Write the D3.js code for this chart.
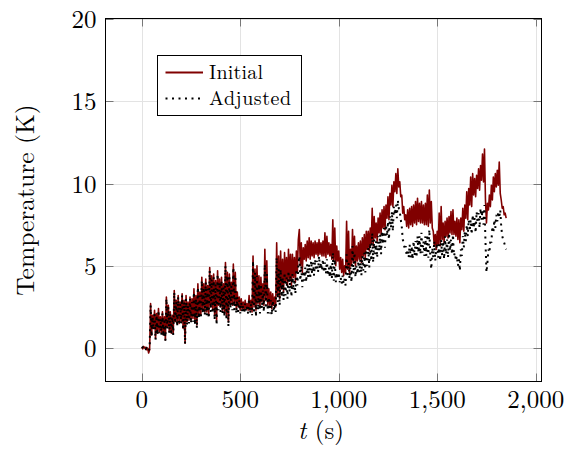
<!DOCTYPE html>
<html>
<head>
<meta charset="utf-8">
<script src="https://cdn.jsdelivr.net/npm/d3@7"></script>
<style>
  html, body { margin: 0; padding: 0; background: #fff; }
  svg { display: block; }
</style>
</head>
<body>
<svg id="chart" width="574" height="450"></svg>
<script>
// ---- data (sampled every 5 s, t = 0 … 1850 s) ----
const timeStep = 5;
const initialValues = [
  0.05, -0.05, 0.1, 0.0, 0.05, -0.1, 0.0, -0.3, -0.1, 2.7, 0.8, 2.0, 1.2, 2.3, 0.6, 2.1, 0.9, 2.4, 1.0, 1.9,
  0.9, 2.2, 0.8, 1.9, 0.5, 3.1, 1.3, 2.6, 1.0, 2.2, 0.9, 2.0, 0.9, 3.5, 1.6, 2.9, 1.5, 3.2, 1.5, 2.8,
  1.6, 3.3, 1.2, 2.9, 0.3, 3.2, 1.6, 2.8, 1.7, 3.1, 1.7, 3.0, 1.8, 3.6, 1.6, 3.2, 1.4, 3.9, 2.0, 3.4,
  2.0, 4.3, 2.3, 3.9, 2.2, 4.2, 2.2, 3.8, 2.0, 4.9, 2.5, 4.4, 2.4, 4.5, 2.0, 4.1, 1.7, 4.7, 2.6, 4.2,
  2.5, 4.3, 2.3, 3.9, 2.1, 5.2, 2.0, 4.6, 1.6, 4.5, 2.7, 4.0, 2.6, 5.1, 2.6, 4.6, 2.4, 3.4, 2.5, 3.1,
  2.3, 3.0, 2.4, 2.8, 2.3, 2.9, 2.4, 2.7, 2.3, 3.2, 2.3, 2.9, 2.2, 5.6, 2.5, 4.8, 2.3, 5.0, 2.7, 4.4,
  2.5, 4.3, 2.8, 3.9, 2.6, 6.0, 2.9, 5.3, 2.6, 3.6, 2.6, 3.4, 2.4, 3.3, 2.6, 3.1, 2.5, 6.4, 3.2, 5.6,
  3.0, 5.9, 3.6, 5.4, 3.4, 5.8, 4.0, 5.5, 3.8, 6.0, 4.1, 5.7, 3.8, 5.7, 4.3, 5.5, 4.0, 5.9, 4.6, 6.6,
  7.2, 5.0, 6.4, 4.6, 6.1, 5.4, 6.3, 5.3, 6.5, 5.5, 6.7, 5.4, 6.5, 5.6, 6.4, 5.5, 6.5, 5.7, 6.4, 5.6,
  6.6, 5.7, 6.4, 5.6, 6.5, 5.6, 7.0, 5.5, 6.8, 5.7, 6.4, 5.6, 6.3, 5.4, 7.8, 5.3, 7.3, 5.0, 6.2, 5.3,
  5.9, 4.8, 5.5, 4.6, 5.4, 4.4, 5.0, 4.6, 7.7, 4.8, 7.1, 4.5, 6.0, 5.0, 7.2, 5.2, 6.8, 5.0, 6.2, 5.3,
  6.4, 5.4, 6.5, 5.2, 6.7, 5.6, 6.9, 5.5, 7.1, 6.0, 7.1, 5.9, 7.3, 6.3, 8.5, 6.2, 8.0, 6.7, 7.6, 6.5,
  7.9, 7.0, 8.2, 6.9, 8.4, 7.3, 8.6, 7.2, 8.7, 7.9, 9.2, 7.8, 9.4, 8.7, 9.9, 8.6, 10.1, 9.5, 10.6, 9.4,
  10.9, 9.8, 10.1, 9.2, 9.3, 8.2, 8.6, 7.8, 8.1, 7.4, 8.4, 7.3, 8.5, 7.5, 8.6, 7.4, 8.7, 7.6, 8.9, 7.5,
  9.1, 7.7, 8.8, 7.6, 8.9, 7.6, 8.7, 7.5, 8.8, 7.5, 9.3, 7.4, 9.6, 7.6, 8.9, 7.3, 7.1, 6.2, 6.9, 6.0,
  7.1, 6.3, 8.2, 6.2, 8.6, 6.6, 7.6, 6.4, 7.7, 6.8, 7.9, 6.7, 8.0, 7.0, 8.3, 6.9, 8.4, 6.9, 7.7, 6.8,
  7.9, 6.6, 7.8, 6.4, 7.9, 7.2, 8.5, 7.1, 8.7, 7.9, 9.5, 7.8, 9.7, 8.7, 10.4, 8.6, 10.6, 9.3, 10.3, 9.2,
  10.5, 9.7, 10.9, 9.6, 11.1, 10.2, 11.8, 10.1, 12.1, 9.0, 7.6, 8.8, 8.4, 9.3, 8.6, 9.9, 9.0, 10.4, 9.5, 10.6,
  9.8, 10.8, 9.9, 11.3, 9.4, 9.0, 8.5, 8.6, 8.1, 8.2, 7.9
];
const adjustedValues = [
  0.0, 0.05, -0.05, 0.05, -0.05, 0.0, -0.1, -0.2, 0.0, 2.6, 0.7, 1.9, 1.1, 2.2, 0.5, 2.0, 0.8, 2.3, 0.9, 1.8,
  0.8, 2.1, 0.7, 1.8, 0.45, 3.0, 1.2, 2.5, 0.9, 2.1, 0.8, 1.9, 0.8, 3.4, 1.5, 2.8, 1.3, 3.1, 1.4, 2.7,
  1.5, 3.2, 1.1, 2.8, 0.25, 3.0, 1.4, 2.6, 1.5, 3.0, 1.5, 2.8, 1.6, 3.4, 1.4, 3.0, 1.2, 3.7, 1.8, 3.2,
  1.8, 4.1, 2.1, 3.7, 2.0, 4.0, 2.0, 3.6, 1.8, 4.7, 2.2, 4.2, 2.1, 4.3, 1.7, 3.9, 1.4, 4.5, 2.3, 4.0,
  2.2, 4.1, 2.1, 3.7, 1.9, 5.0, 1.7, 4.4, 1.3, 4.3, 2.4, 3.8, 2.3, 4.9, 2.3, 4.4, 2.1, 3.1, 2.2, 2.9,
  2.1, 2.8, 2.2, 2.6, 2.1, 2.7, 2.2, 2.5, 2.1, 3.0, 2.1, 2.7, 2.0, 5.3, 2.1, 4.6, 1.9, 4.4, 2.3, 3.9,
  2.1, 3.9, 2.4, 3.5, 2.2, 5.1, 2.4, 4.5, 2.1, 3.1, 2.1, 2.9, 2.0, 2.9, 2.2, 2.7, 2.2, 5.5, 2.8, 4.8,
  2.6, 4.8, 3.1, 4.3, 2.9, 4.6, 3.2, 4.3, 3.0, 4.7, 3.4, 4.4, 3.1, 4.5, 3.5, 4.2, 3.3, 4.8, 3.8, 5.0,
  5.6, 4.1, 5.0, 3.7, 4.7, 4.1, 4.9, 4.0, 5.1, 4.3, 5.1, 4.2, 5.3, 4.5, 5.2, 4.4, 5.4, 4.7, 5.3, 4.6,
  5.6, 4.8, 5.2, 4.7, 5.4, 4.6, 5.2, 4.5, 5.4, 4.4, 4.9, 4.3, 5.1, 4.2, 5.8, 4.1, 5.4, 4.0, 4.6, 4.2,
  4.6, 4.0, 4.3, 3.9, 4.4, 3.9, 4.2, 3.8, 5.7, 4.3, 5.2, 4.2, 4.9, 4.0, 6.2, 4.5, 5.8, 4.3, 5.0, 4.5,
  5.3, 4.6, 5.4, 4.4, 5.6, 4.7, 5.8, 4.6, 6.0, 5.0, 6.1, 4.9, 6.4, 5.3, 7.0, 5.2, 6.6, 5.7, 6.5, 5.5,
  6.8, 5.9, 6.9, 5.7, 7.1, 6.3, 7.3, 6.1, 7.5, 6.8, 7.7, 6.6, 8.0, 7.3, 8.3, 7.1, 8.6, 8.1, 8.7, 7.9,
  9.0, 8.5, 8.3, 7.8, 7.4, 6.6, 6.4, 6.0, 6.2, 5.6, 6.0, 5.5, 6.3, 5.5, 6.2, 5.4, 6.5, 5.6, 6.5, 5.5,
  6.8, 5.8, 6.8, 5.7, 7.0, 5.8, 6.5, 5.6, 6.8, 5.6, 6.9, 5.5, 7.2, 5.5, 4.8, 6.1, 5.5, 6.5, 5.3, 6.0,
  6.4, 5.5, 6.3, 5.3, 6.6, 5.6, 6.5, 5.4, 6.8, 5.7, 6.6, 5.5, 7.0, 5.9, 6.6, 5.7, 6.9, 5.6, 5.8, 5.3,
  5.6, 5.0, 5.4, 4.7, 6.0, 5.6, 6.8, 6.1, 7.1, 6.5, 7.5, 6.8, 7.8, 7.1, 7.8, 6.9, 8.1, 7.3, 7.9, 7.0,
  8.3, 7.6, 8.2, 7.3, 8.5, 7.8, 8.4, 7.5, 8.7, 6.5, 4.6, 5.2, 6.0, 5.8, 6.6, 6.4, 7.4, 7.0, 7.8, 7.3,
  8.1, 7.7, 8.3, 7.9, 8.4, 7.4, 6.8, 6.6, 6.4, 6.2, 6.0
];
const seriesNames = ["Initial", "Adjusted"];
const xTicks = [0, 500, 1000, 1500, 2000];
const yTicks = [0, 5, 10, 15, 20];
const xLabel = "t";
const xUnit = " (s)";
const yLabel = "Temperature (K)";

// ---- layout ----
const FONT = "'Latin Modern Roman', 'CMU Serif', 'Liberation Serif', serif";
const L = 105.5, R = 541.5, T = 18.5, B = 381.5;
const svg = d3.select("#chart").attr("font-family", FONT);
const x = d3.scaleLinear().domain([-184, 2032]).range([L, R + 0.5]);
const y = d3.scaleLinear().domain([-2, 20]).range([B - 0.5, T + 0.5]);

// grid
const grid = svg.append("g");
grid.selectAll(".gx").data(xTicks).enter().append("line")
  .attr("x1", d => Math.round(x(d)) + 0.5).attr("x2", d => Math.round(x(d)) + 0.5)
  .attr("y1", T).attr("y2", B).attr("stroke", "#e3e3e3").attr("stroke-width", 1);
grid.selectAll(".gy").data(yTicks).enter().append("line")
  .attr("y1", d => Math.round(y(d)) + 0.5).attr("y2", d => Math.round(y(d)) + 0.5)
  .attr("x1", L).attr("x2", R).attr("stroke", "#e3e3e3").attr("stroke-width", 1);

// data lines
svg.append("clipPath").attr("id", "clip").append("rect")
  .attr("x", L).attr("y", T).attr("width", R - L).attr("height", B - T);
const line = d3.line().x((d, i) => x(i * timeStep)).y(d => y(d));
const plot = svg.append("g").attr("clip-path", "url(#clip)");
plot.append("path").datum(initialValues).attr("d", line)
  .attr("fill", "none").attr("stroke", "#800000").attr("stroke-width", 1.6)
  .attr("stroke-linejoin", "round");
plot.append("path").datum(adjustedValues).attr("d", line)
  .attr("fill", "none").attr("stroke", "#000").attr("stroke-width", 2)
  .attr("stroke-dasharray", "2,4.5");

// ticks (inward, all four sides)
const tk = 8;
const ticks = svg.append("g").attr("stroke", "#777").attr("stroke-width", 1);
xTicks.forEach(v => {
  const px = Math.round(x(v)) + 0.5;
  ticks.append("line").attr("x1", px).attr("x2", px).attr("y1", B).attr("y2", B - tk);
  ticks.append("line").attr("x1", px).attr("x2", px).attr("y1", T).attr("y2", T + tk);
});
yTicks.forEach(v => {
  const py = Math.round(y(v)) + 0.5;
  ticks.append("line").attr("y1", py).attr("y2", py).attr("x1", L).attr("x2", L + tk);
  ticks.append("line").attr("y1", py).attr("y2", py).attr("x1", R).attr("x2", R - tk);
});

// frame
svg.append("rect").attr("x", L).attr("y", T).attr("width", R - L).attr("height", B - T)
  .attr("fill", "none").attr("stroke", "#000").attr("stroke-width", 1);

// tick labels
const fmt = d3.format(",");
svg.append("g").selectAll("text").data(xTicks).enter().append("text")
  .attr("x", d => x(d)).attr("y", 407.5).attr("text-anchor", "middle")
  .attr("font-size", 25).attr("fill", "#000").text(d => fmt(d));
svg.append("g").selectAll("text").data(yTicks).enter().append("text")
  .attr("x", 96.5).attr("y", d => y(d) + 9).attr("text-anchor", "end")
  .attr("font-size", 25).attr("fill", "#000").text(d => fmt(d));

// axis titles
const xt = svg.append("text").attr("x", 321).attr("y", 439).attr("text-anchor", "middle")
  .attr("font-size", 25).attr("fill", "#000");
xt.append("tspan").attr("font-style", "italic").text(xLabel);
xt.append("tspan").text(xUnit);
svg.append("text").attr("transform", "translate(34,200) rotate(-90)")
  .attr("text-anchor", "middle").attr("font-size", 25.5).attr("fill", "#000").text(yLabel);

// legend
const lg = svg.append("g");
lg.append("rect").attr("x", 157.5).attr("y", 55.5).attr("width", 144).attr("height", 60)
  .attr("fill", "#fff").attr("stroke", "#000").attr("stroke-width", 1);
lg.append("line").attr("x1", 165.5).attr("x2", 203).attr("y1", 72.5).attr("y2", 72.5)
  .attr("stroke", "#800000").attr("stroke-width", 2);
lg.append("line").attr("x1", 165.5).attr("x2", 203).attr("y1", 98.5).attr("y2", 98.5)
  .attr("stroke", "#000").attr("stroke-width", 2).attr("stroke-dasharray", "2,4.5");
lg.append("text").attr("x", 209).attr("y", 79).attr("font-size", 20).attr("fill", "#000")
  .attr("textLength", 54).attr("lengthAdjust", "spacing").text(seriesNames[0]);
lg.append("text").attr("x", 209).attr("y", 105).attr("font-size", 20).attr("fill", "#000")
  .attr("textLength", 82).attr("lengthAdjust", "spacing").text(seriesNames[1]);
</script>
</body>
</html>
